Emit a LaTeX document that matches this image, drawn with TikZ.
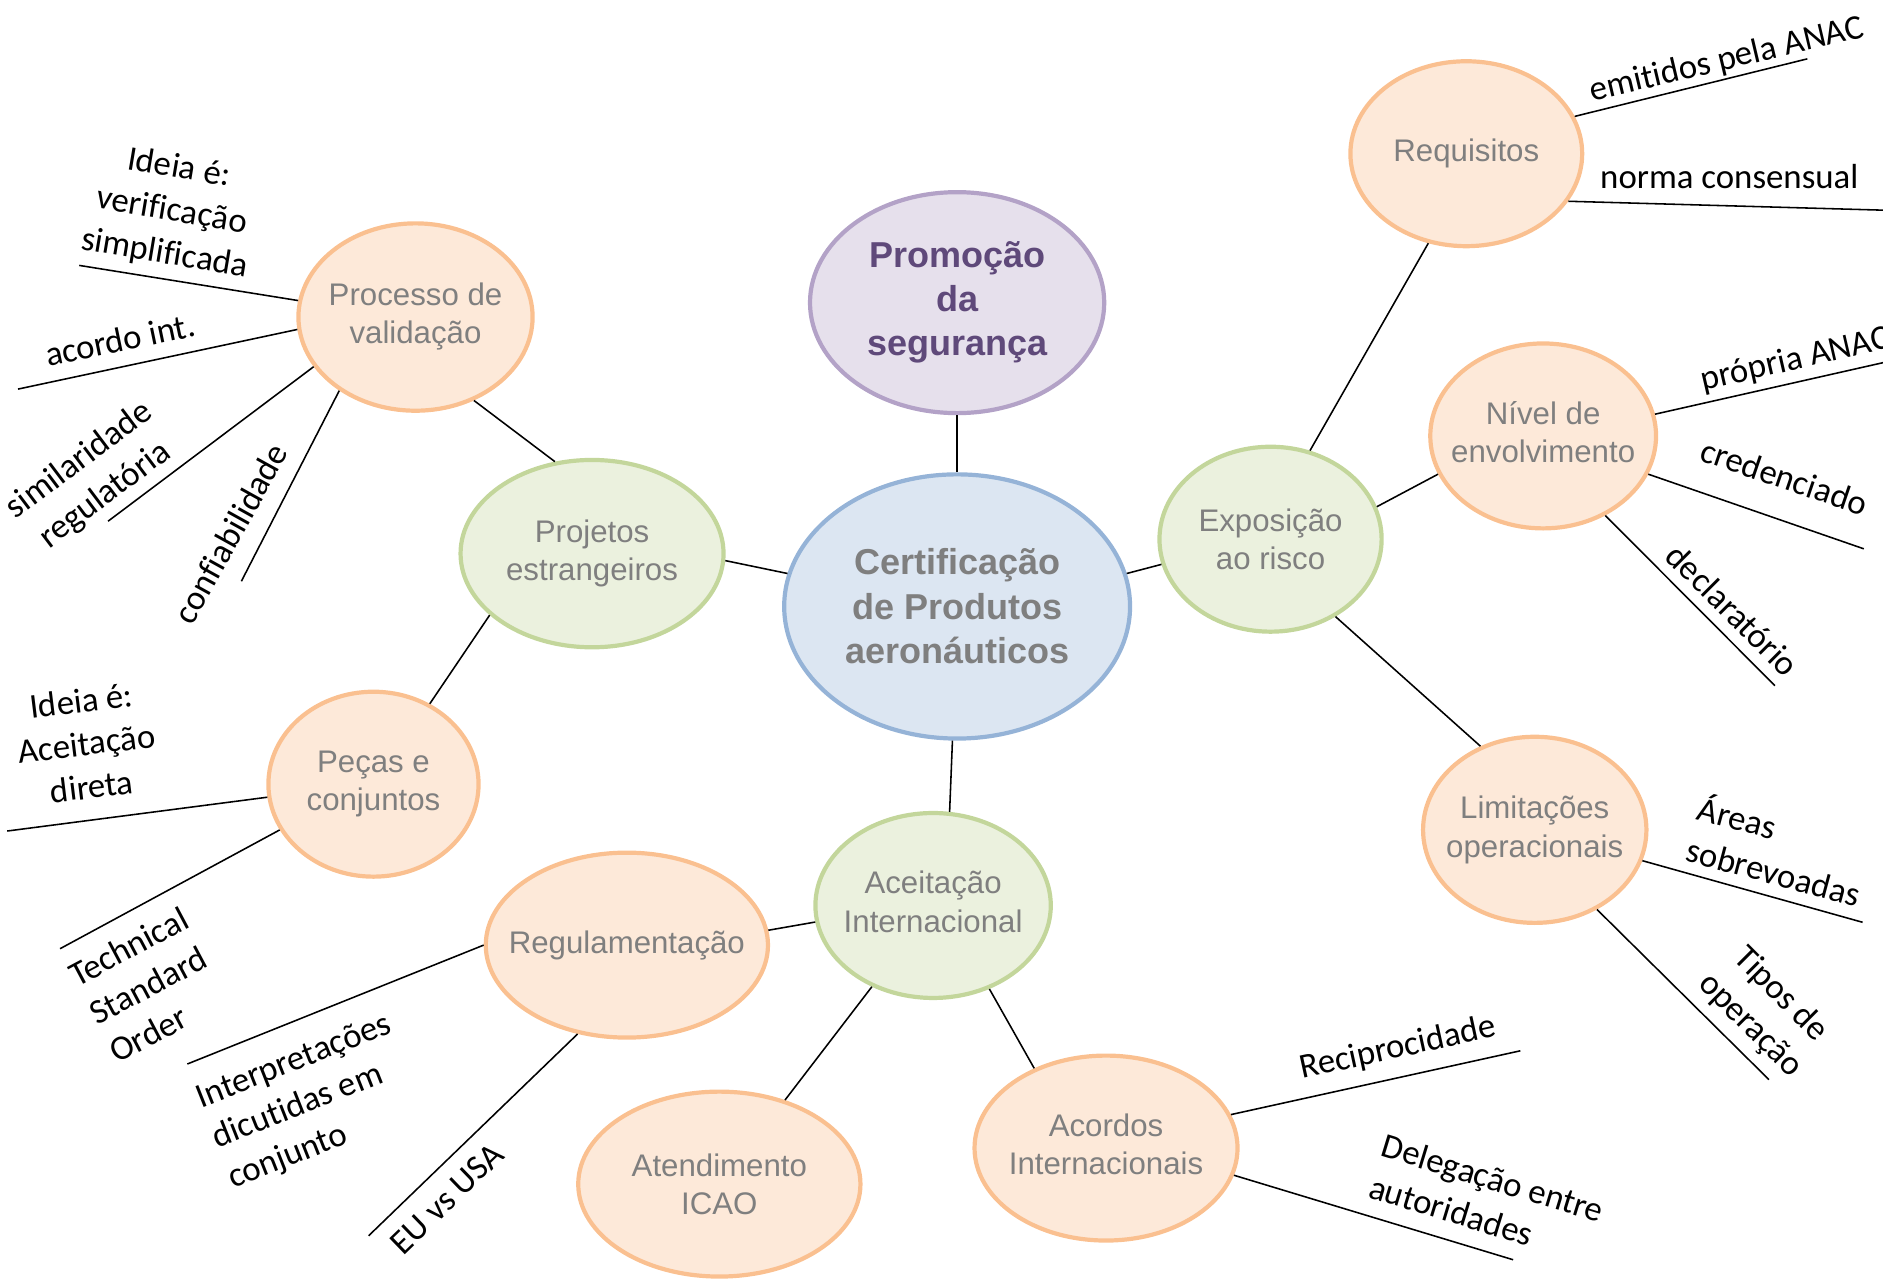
\documentclass[tikz,border=0pt]{standalone}
\usepackage{fontspec}
\setmainfont{Liberation Sans}
\newfontfamily\lab[Ligatures=NoCommon]{Carlito}
\usetikzlibrary{shapes.geometric}
\definecolor{orB}{HTML}{FAC090}
\definecolor{orF}{HTML}{FDE9D9}
\definecolor{grB}{HTML}{C3D69B}
\definecolor{grF}{HTML}{EBF1DE}
\definecolor{blB}{HTML}{95B3D7}
\definecolor{blF}{HTML}{DCE6F2}
\definecolor{puB}{HTML}{B3A2C7}
\definecolor{puF}{HTML}{E6E0EC}
\definecolor{puT}{HTML}{5F497A}
\definecolor{txG}{HTML}{7F7F7F}
\newcommand{\upby}[2]{\raisebox{#1}{\begin{tabular}{@{}c@{}}#2\end{tabular}}}
\begin{document}
\begin{tikzpicture}[x=1pt,y=-1pt,
 bub/.style={ellipse, line width=3.5pt, inner sep=-40pt, align=center, text=txG, font=\fontsize{26}{32}\selectfont},
 orn/.style={bub, draw=orB, fill=orF},
 grn/.style={bub, draw=grB, fill=grF},
 conn/.style={line width=1.3pt, black},
 lbl/.style={font=\lab\fontsize{29}{36}\selectfont, align=center, inner sep=0pt, text=black},
 lbll/.style={lbl, align=left}]
\useasboundingbox (0,0) rectangle (1568,1068.4);

% main nodes
\node[bub, draw=blB, fill=blF, minimum width=288, minimum height=220, font=\bfseries\fontsize{30}{37}\selectfont] (cert) at (797,505) {Certificação\\de Produtos\\aeronáuticos};
\node[bub, draw=puB, fill=puF, text=puT, minimum width=245, minimum height=184, font=\bfseries\fontsize{30}{37}\selectfont] (prom) at (797,252) {\upby{-3pt}{Promoção\\da\\segurança}};
\node[grn, minimum width=219, minimum height=156] (proj) at (493,461) {\upby{4pt}{Projetos\\estrangeiros}};
\node[grn, minimum width=185, minimum height=154] (expo) at (1058,449) {Exposição\\ao risco};
\node[grn, minimum width=196, minimum height=154] (acei) at (777,754) {\upby{6pt}{Aceitação\\Internacional}};
\node[orn, minimum width=195, minimum height=156] (proc) at (346,264) {\upby{-3pt}{Processo de\\validação}};
\node[orn, minimum width=175, minimum height=154] (peca) at (311,653) {Peças e\\conjuntos};
\node[orn, minimum width=235, minimum height=154] (regu) at (522,787) {\raisebox{-3pt}{Regulamentação}};
\node[orn, minimum width=235, minimum height=154] (aten) at (599,986) {Atendimento\\ICAO};
\node[orn, minimum width=219, minimum height=154] (acor) at (921,956) {\upby{7pt}{Acordos\\Internacionais}};
\node[orn, minimum width=193, minimum height=154] (requ) at (1221,128) {\raisebox{-3pt}{Requisitos}};
\node[orn, minimum width=188, minimum height=154] (nive) at (1285,363) {\upby{5pt}{Nível de\\envolvimento}};
\node[orn, minimum width=186, minimum height=155] (limi) at (1278,691) {Limitações\\operacionais};

% connectors between nodes
\draw[conn] (prom.south) -- (cert.north);
\draw[conn] (proj.-3) -- (cert.169.6);
\draw[conn] (proj.112.6) -- (proc.-55.7);
\draw[conn] (proj.211.6) -- (peca.55.9);
\draw[conn] (cert.11) -- (expo.193.4);
\draw[conn] (expo.66.3) -- (requ.247.9);
\draw[conn] (expo.17.6) -- (nive.200);
\draw[conn] (expo.-50.2) -- (limi.123.1);
\draw[conn] (cert.268.5) -- (acei.80.4);
\draw[conn] (acei.188) -- (regu.6.3);
\draw[conn] (acei.233.9) -- (aten.52.5);
\draw[conn] (acei.304.6) -- (acor.132.8);

% free ends
\coordinate (p1) at (66,221);
\coordinate (p2) at (15,324);
\coordinate (p3) at (90,434);
\coordinate (p4) at (201,484);
\coordinate (q1) at (6,692);
\coordinate (q2) at (50,790);
\coordinate (r1) at (156,886);
\coordinate (r2) at (307,1029);
\coordinate (a1) at (1266,875);
\coordinate (a2) at (1260,1049);
\coordinate (k1) at (1505,49);
\coordinate (k2) at (1568,175);
\coordinate (n1) at (1568,302);
\coordinate (n2) at (1552,457);
\coordinate (n3) at (1478,571);
\coordinate (l1) at (1551,768);
\coordinate (l2) at (1473,899);

\draw[conn] (proc.172.5) -- (p1);
\draw[conn] (proc.186.9) -- (p2);
\draw[conn] (proc.206) -- (p3);
\draw[conn] (proc.224.5) -- (p4);
\draw[conn] (peca.187.8) -- (q1);
\draw[conn] (peca.206.6) -- (q2);
\draw[conn] (regu.180) -- (r1);
\draw[conn] (regu.241.6) -- (r2);
\draw[conn] (acor.15.3) -- (a1);
\draw[conn] (acor.-12.2) -- (a2);
\draw[conn] (requ.19) -- (k1);
\draw[conn] (requ.-25.2) -- (k2);
\draw[conn] (nive.11) -- (n1);
\draw[conn] (nive.-20.6) -- (n2);
\draw[conn] (nive.-52.1) -- (n3);
\draw[conn] (limi.-16.7) -- (l1);
\draw[conn] (limi.-52.1) -- (l2);

% labels
\node[lbl, rotate=-9.5] (t1) at (143,176) {Ideia é:\\verificação\\simplificada};
\node[lbl, rotate=11.7] (t2) at (100,283) {acordo int.};
\node[lbl, rotate=37] (t3) at (77,398) {similaridade\\regulatória};
\node[lbl, rotate=61] (t4) at (192,444) {confiabilidade};
\node[lbl, rotate=7] (t5) at (72,619) {Ideia é:\\Aceitação\\direta};
\node[lbll, rotate=28] (t6) at (124,820) {Technical\\Standard\\Order};
\node[lbll, rotate=21.6] (t7) at (258,918) {Interpretações\\dicutidas em\\conjunto};
\node[lbl, rotate=44] (t8) at (372,998) {EU vs USA};
\node[lbl, rotate=12.3] (t9) at (1164,873) {Reciprocidade};
\node[lbll, rotate=-17] (t10) at (1238,998) {Delegação entre\\autoridades};
\node[lbl, rotate=13.3] (t11) at (1438,50) {emitidos pela ANAC};
\node[lbl] (t12) at (1440,147) {norma consensual};
\node[lbl, rotate=13] (t13) at (1495,300) {própria ANAC};
\node[lbl, rotate=-18.8] (t14) at (1486,397) {credenciado};
\node[lbl, rotate=-45] (t15) at (1443,508) {declaratório};
\node[lbll, rotate=-15] (t16) at (1482,707) {Áreas\\sobrevoadas};
\node[lbl, rotate=-45] (t17) at (1470,841) {Tipos de\\operação};
\end{tikzpicture}
\end{document}
